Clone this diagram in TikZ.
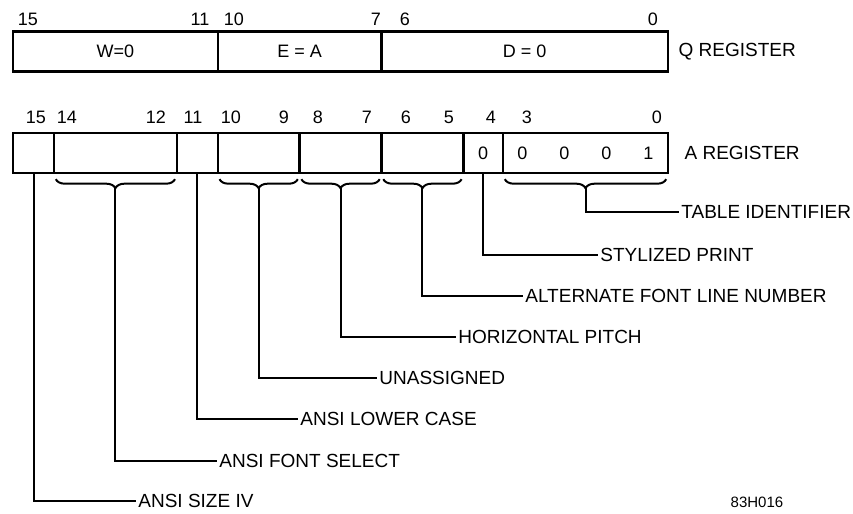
\documentclass[tikz,border=0pt]{standalone}
\usepackage{fontspec}
\setmainfont{Liberation Sans}
\usetikzlibrary{positioning,decorations.pathreplacing,calc}

\begin{document}
\begin{tikzpicture}[x=0.5pt, y=-0.5pt,
  field/.style={draw, line width=1.2pt, minimum height=20pt, inner sep=0pt, font={\fontsize{9}{11}\selectfont}},
  bitnum/.style={font={\fontsize{9}{11}\selectfont}, inner sep=1pt},
  lab/.style={font={\fontsize{9.5}{11}\selectfont}, anchor=west, inner sep=1pt},
  lead/.style={line width=1pt},
  brc/.style={lead, decorate, decoration={brace, mirror, amplitude=4.5pt}},
]
  \useasboundingbox (0,0) rectangle (853,514);

  % Q register, bits 15..0.
  \foreach \n/\l/\r/\t in {qw/13/217.7/{W=0}, qe/217.7/381.5/{E = A}, qd/381.5/668/{D = 0}}
    \node[field, minimum width={(\r-\l)*0.5pt}] (\n) at ({(\l+\r)/2},51.5) {\t};
  \foreach \b/\x in {15/28, 11/200, 10/234, 7/376, 6/405, 0/653}
    \node[bitnum] (qb\b) at (\x,19) {\b};
  \node[lab, right=3.5pt of qd] (qreg) {Q REGISTER};

  % A register fields.
  \foreach \n/\l/\r/\t in {as/13/54/{}, af/54/176.8/{}, al/176.8/217.7/{}, au/217.7/299.6/{},
      ah/299.6/381.5/{}, an/381.5/463.4/{}, ap/463.4/503/0,
      at/503/668/{0\hspace{16pt}0\hspace{16pt}0\hspace{16pt}1}}
    \node[field, minimum width={(\r-\l)*0.5pt}] (\n) at ({(\l+\r)/2},153) {\t};
  \foreach \b/\x in {15/36, 14/67, 12/156, 11/193, 10/231, 9/284, 8/318,
      7/367, 6/406, 5/449, 4/491, 3/527, 0/657}
    \node[bitnum] (ab\b) at (\x,117) {\b};
  \node[lab, right=6.5pt of at] (areg) {A REGISTER};

  % Braces under the multi-bit fields.
  \foreach \n in {af, au, ah, an, at} {
    \draw[brc] ($(\n.south west)+(3,5)$) -- ($(\n.south east)+(-3,5)$);
    \coordinate (\n-tip) at ($(\n.south)+(0,14)$);
  }

  % Field names.
  \foreach \n/\x/\y/\t in {lsize/136/501/{ANSI SIZE IV}, lfont/217/461/{ANSI FONT SELECT},
      llow/298/419/{ANSI LOWER CASE}, lun/377/378/{UNASSIGNED},
      lhor/456/337/{HORIZONTAL PITCH}, lalt/523/296/{ALTERNATE FONT LINE NUMBER},
      lsty/598/255/{STYLIZED PRINT}, ltab/679/212/{TABLE IDENTIFIER}}
    \node[lab] (\n) at (\x,\y) {\t};

  % Leaders.
  \foreach \s/\t in {as.south/lsize, af-tip/lfont, al.south/llow, au-tip/lun,
      ah-tip/lhor, an-tip/lalt, ap.south/lsty, at-tip/ltab}
    \draw[lead] (\s) |- (\t.west);

  \node[font={\fontsize{7.5}{9}\selectfont}, anchor=north, inner sep=0pt] (figno) at (757,497) {83H016};
\end{tikzpicture}
\end{document}
